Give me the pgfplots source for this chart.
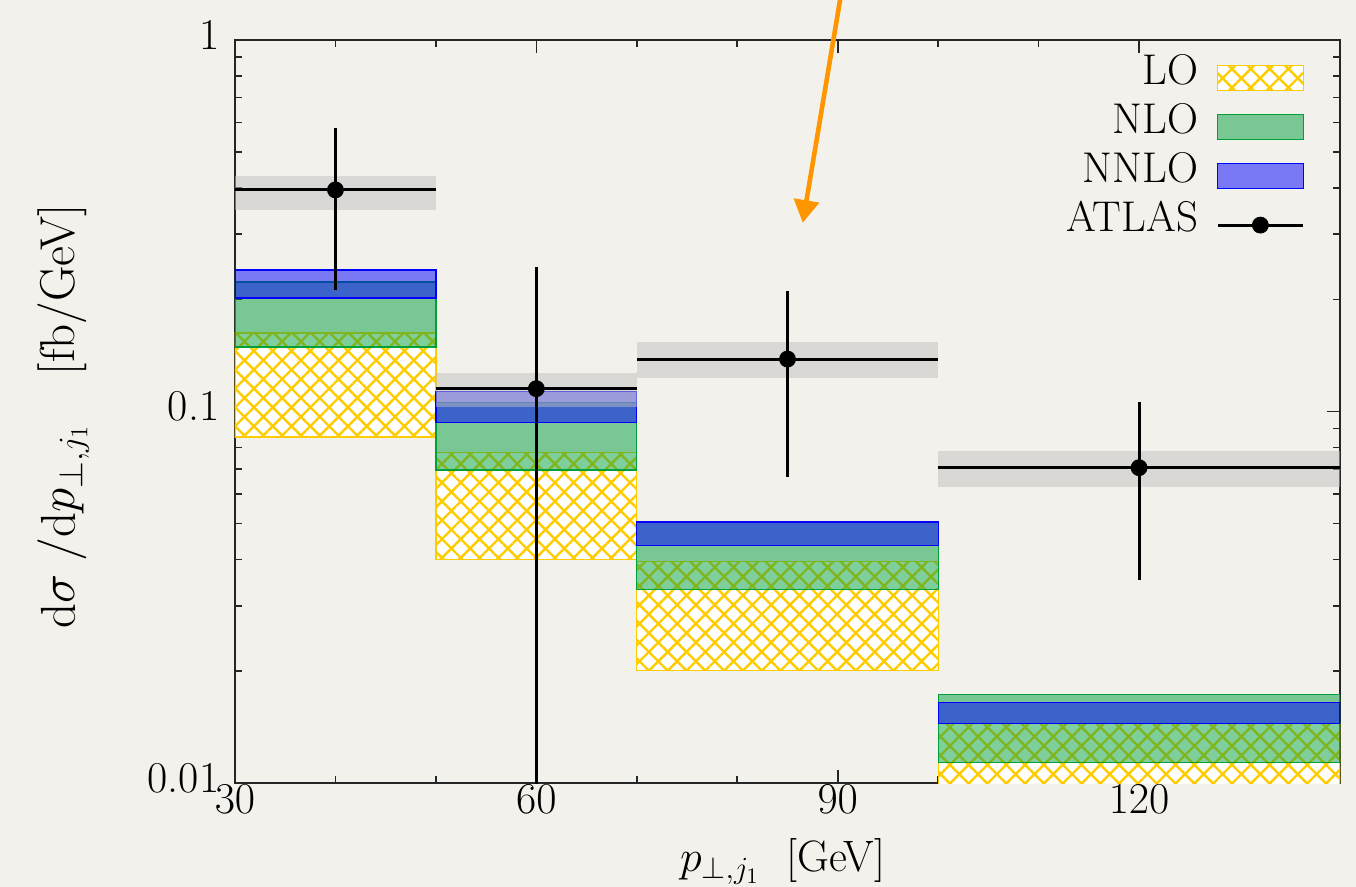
\RequirePackage{fix-cm}
\documentclass[border=0pt]{standalone}
\usepackage{pgfplots}
\pgfplotsset{compat=1.18}
\usetikzlibrary{patterns.meta,arrows.meta}

\definecolor{paper}{RGB}{243,241,236}
\definecolor{lo}{RGB}{255,204,0}
\definecolor{nlo}{RGB}{0,160,60}
\definecolor{nnlo}{RGB}{0,0,255}
\definecolor{expband}{RGB}{192,192,192}
\definecolor{callout}{RGB}{255,150,0}

\pgfplotsset{
  lo band/.style={draw=lo, line width=0.6pt, fill=white,
    postaction={pattern={Hatch[angle=45,distance=6.65pt,line width=1.2pt]}, pattern color=lo}},
  nlo band/.style={draw=nlo, line width=0.6pt, fill=nlo, fill opacity=0.5},
  nnlo band/.style={draw=nnlo, line width=0.6pt, fill=nnlo, fill opacity=0.5},
  exp band/.style={draw=none, fill=expband, fill opacity=0.5},
}

\begin{document}
\begin{tikzpicture}
\path[use as bounding box, fill=paper] (-117.5pt,-52pt) rectangle (560.5pt,391.5pt);
\begin{axis}[
  scale only axis, width=552.5pt, height=371.5pt,
  xmin=30, xmax=140, ymin=0.01, ymax=1, ymode=log,
  xtick={30,60,90,120}, minor x tick num=2,
  ytick={0.01,0.1,1}, yticklabels={0.01,0.1,1},
  axis line style={line width=1pt, black!85},
  every tick/.style={black!85, line width=0.8pt},
  major tick length=6.5pt, minor tick length=3.5pt,
  tick label style={font=\fontsize{22}{26}\selectfont},
  xticklabel style={yshift=2.5pt},
  yticklabel style={xshift=-4.3pt, yshift=2.5pt},
  xlabel={$p_{\perp,j_1}$\ \ [GeV]},
  ylabel={$\mathrm{d}\sigma\;/\mathrm{d}p_{\perp,j_1}$\quad[fb/GeV]},
  xlabel style={font=\fontsize{22}{26}\selectfont, at={(axis description cs:0.4955,-0.1195)}, anchor=base},
  ylabel style={font=\fontsize{24.5}{29}\selectfont, at={(axis description cs:-0.1448,0.4933)}, anchor=base},
  legend cell align=right, legend plot pos=right,
  legend style={at={(axis description cs:0.9683,0.9798)}, anchor=north east,
    draw=none, fill=none, inner sep=0pt, row sep=6.6pt,
    font=\fontsize{21.5}{25}\selectfont,
    nodes={inner sep=0pt, text height=14.7pt, text depth=0pt},
    /tikz/every odd column/.append style={column sep=9pt}},
]
% LO: hatched bands
\addplot[forget plot, lo band] coordinates {(30,0.0854) (50,0.0854) (50,0.1627) (30,0.1627)} -- cycle;
\addplot[forget plot, lo band] coordinates {(50,0.0400) (70,0.0400) (70,0.0777) (50,0.0777)} -- cycle;
\addplot[forget plot, lo band] coordinates {(70,0.02005) (100,0.02005) (100,0.0394) (70,0.0394)} -- cycle;
\addplot[forget plot, lo band] coordinates {(100,0.009) (140,0.009) (140,0.01448) (100,0.01448)} -- cycle;
% NLO bands
\addplot[forget plot, nlo band] coordinates {(30,0.1492) (50,0.1492) (50,0.2232) (30,0.2232)} -- cycle;
\addplot[forget plot, nlo band] coordinates {(50,0.0696) (70,0.0696) (70,0.1060) (50,0.1060)} -- cycle;
\addplot[forget plot, nlo band] coordinates {(70,0.0331) (100,0.0331) (100,0.0505) (70,0.0505)} -- cycle;
\addplot[forget plot, nlo band] coordinates {(100,0.01137) (140,0.01137) (140,0.01733) (100,0.01733)} -- cycle;
% NNLO bands
\addplot[forget plot, nnlo band] coordinates {(30,0.2020) (50,0.2020) (50,0.2403) (30,0.2403)} -- cycle;
\addplot[forget plot, nnlo band] coordinates {(50,0.0935) (70,0.0935) (70,0.1131) (50,0.1131)} -- cycle;
\addplot[forget plot, nnlo band] coordinates {(70,0.0436) (100,0.0436) (100,0.0504) (70,0.0504)} -- cycle;
\addplot[forget plot, nnlo band] coordinates {(100,0.01448) (140,0.01448) (140,0.01645) (100,0.01645)} -- cycle;
% ATLAS systematic bands
\addplot[forget plot, exp band] coordinates {(30,0.3485) (50,0.3485) (50,0.4304) (30,0.4304)} -- cycle;
\addplot[forget plot, exp band] coordinates {(50,0.1030) (70,0.1030) (70,0.1267) (50,0.1267)} -- cycle;
\addplot[forget plot, exp band] coordinates {(70,0.1233) (100,0.1233) (100,0.1538) (70,0.1538)} -- cycle;
\addplot[forget plot, exp band] coordinates {(100,0.0627) (140,0.0627) (140,0.0783) (100,0.0783)} -- cycle;
% ATLAS data
\addplot[forget plot, only marks, black, mark=*, mark size=4pt,
  error bars/.cd, x dir=both, x explicit, y dir=both, y explicit,
  error mark=none, error bar style={line width=1.5pt, black}]
  coordinates {
    (40,0.395)   += (10,0.183)  -= (10,0.183)
    (60,0.1152)  += (10,0.1293) -= (10,0.113)
    (85,0.1384)  += (15,0.0726) -= (15,0.0716)
    (120,0.0706) += (20,0.0354) -= (20,0.0354)
  };
% legend
\addlegendimage{legend image code/.code={
  \draw[draw=lo, line width=0.6pt, fill=white,
    postaction={pattern={Hatch[angle=45,distance=6.65pt,line width=1.2pt]}, pattern color=lo}]
    (0pt,-10.25pt) rectangle (42.8pt,2.25pt);}}
\addlegendentry{LO}
\addlegendimage{legend image code/.code={
  \draw[draw=nlo, line width=0.6pt, fill=nlo, fill opacity=0.5] (0pt,-10.25pt) rectangle (42.8pt,2.25pt);}}
\addlegendentry{NLO}
\addlegendimage{legend image code/.code={
  \draw[draw=nnlo, line width=0.6pt, fill=nnlo, fill opacity=0.5] (0pt,-10.25pt) rectangle (42.8pt,2.25pt);}}
\addlegendentry{NNLO}
\addlegendimage{legend image code/.code={
  \draw[black, line width=1.4pt] (0pt,-4pt) -- (42.8pt,-4pt);
  \fill[black] (21.4pt,-4pt) circle (4pt);}}
\addlegendentry{ATLAS}
\coordinate (arrowstart) at (axis cs:90.4,1.363);
\coordinate (arrowtip) at (axis cs:86.52,0.3222);
\end{axis}
\draw[callout, line width=2.3pt, -{Triangle[width=12.5pt,length=11.3pt]}] (arrowstart) -- (arrowtip);
\end{tikzpicture}
\end{document}
